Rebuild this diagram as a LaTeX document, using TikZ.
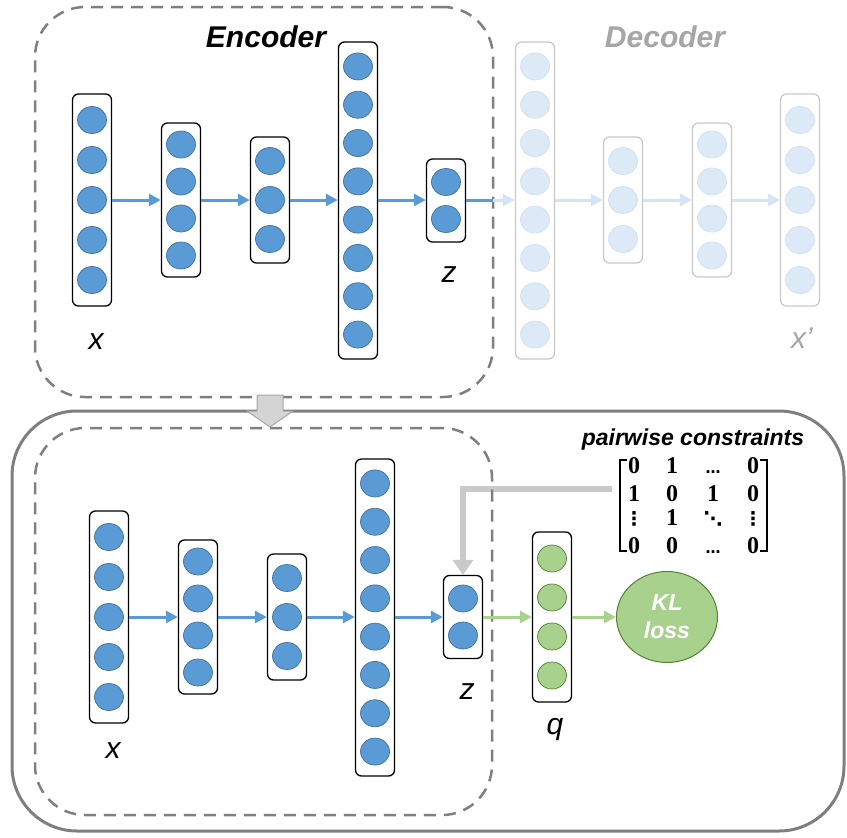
\documentclass[tikz,border=0pt]{standalone}
\usepackage{fontspec}
\setmainfont{Liberation Sans}
\newfontfamily\matfont{Liberation Serif}
\newfontfamily\dotfont{DejaVu Sans}
\usetikzlibrary{shapes.geometric,arrows.meta}
\definecolor{nblue}{HTML}{5B9BD5}
\definecolor{nblueb}{HTML}{41719C}
\definecolor{lblue}{HTML}{DCEAF7}
\definecolor{lblueb}{HTML}{CFE1F2}
\definecolor{larrow}{HTML}{D2E4F5}
\definecolor{lgraybox}{HTML}{C8C8C8}
\definecolor{dectext}{HTML}{A6A6A6}
\definecolor{frame}{HTML}{7F7F7F}
\definecolor{bafill}{HTML}{D4D4D4}
\definecolor{badraw}{HTML}{A6A6A6}
\definecolor{cgray}{HTML}{C9C9C9}
\definecolor{ngreen}{HTML}{A9D18E}
\definecolor{ngreenb}{HTML}{548235}
\definecolor{garr}{HTML}{A9D18E}
\newcommand\mklayer[8]{%
  \node[#8, minimum height=#6pt] (#1) at (#2,#3) {};
  \foreach \i in {1,...,#4}
    \node[#7] (#1-\i) at (#2,{#3+(\i-(#4+1)/2)*#5}) {};
}
\tikzset{
  lbox/.style={draw=black, line width=1.3pt, rounded corners=6pt, minimum width=39pt, inner sep=0pt},
  dbox/.style={lbox, draw=lgraybox},
  neuron/.style={ellipse, draw=nblueb, fill=nblue, line width=0.7pt, minimum width=29pt, minimum height=27pt, inner sep=0pt},
  dneuron/.style={neuron, draw=lblueb, fill=lblue},
  gneuron/.style={neuron, draw=ngreenb, fill=ngreen},
  barrow/.style={draw=nblue, line width=3pt, -{Triangle[length=12pt,width=12pt]}},
  lbarrow/.style={draw=larrow, line width=3pt, -{Triangle[length=12pt,width=12pt]}},
  garrow/.style={draw=garr, line width=3pt, -{Triangle[length=12pt,width=12pt]}},
  dashbox/.style={draw=frame, line width=2.5pt, dash pattern=on 12pt off 8pt, rounded corners=50pt, inner sep=0pt},
  lab/.style={font=\fontsize{30}{36}\selectfont\itshape, inner sep=0pt},
  title/.style={font=\fontsize{30}{36}\selectfont\bfseries\itshape, inner sep=0pt},
  ent/.style={font=\fontsize{24}{24}\selectfont\matfont\bfseries, anchor=base, inner sep=0pt},
  dts/.style={font=\fontsize{15}{15}\selectfont\dotfont\bfseries, anchor=base, inner sep=0pt},
  vdts/.style={font=\fontsize{19}{19}\selectfont\dotfont\bfseries, anchor=base, inner sep=0pt},
}
\begin{document}
\begin{tikzpicture}[x=1pt,y=-1pt]
\useasboundingbox (0,0) rectangle (847,838);
% ---------- top: encoder / decoder ----------
\node[dashbox, minimum width=458pt, minimum height=390pt] (enc) at (264,202) {};
\node[title] (enct) at (266,37) {Encoder};
\node[title, text=dectext] (dect) at (665,37) {Decoder};
\mklayer{A1}{92}{200}{5}{40}{212}{neuron}{lbox}
\mklayer{A2}{181}{200}{4}{37}{154}{neuron}{lbox}
\mklayer{A3}{270}{200}{3}{39}{126}{neuron}{lbox}
\mklayer{A4}{358}{200.5}{8}{38.3}{317}{neuron}{lbox}
\mklayer{A5}{446}{200.5}{2}{37}{83}{neuron}{lbox}
\mklayer{D1}{535}{200.5}{8}{38.3}{317}{dneuron}{dbox}
\mklayer{D2}{623}{200}{3}{39}{126}{dneuron}{dbox}
\mklayer{D3}{712}{200}{4}{37}{154}{dneuron}{dbox}
\mklayer{D4}{800}{200}{5}{40}{212}{dneuron}{dbox}
\draw[barrow] (A1.east|-0,200) -- (A2.west|-0,200);
\draw[barrow] (A2.east|-0,200) -- (A3.west|-0,200);
\draw[barrow] (A3.east|-0,200) -- (A4.west|-0,200);
\draw[barrow] (A4.east|-0,200) -- (A5.west|-0,200);
\coordinate (zcut) at (493,200);
\draw[draw=nblue, line width=3pt] (A5.east|-0,200) -- (zcut);
\draw[lbarrow] (zcut) -- (D1.west|-0,200);
\draw[lbarrow] (D1.east|-0,200) -- (D2.west|-0,200);
\draw[lbarrow] (D2.east|-0,200) -- (D3.west|-0,200);
\draw[lbarrow] (D3.east|-0,200) -- (D4.west|-0,200);
\node[lab] (xl) at (96,342) {x};
\node[lab] (zl) at (449,275) {z};
\node[lab, text=dectext] (xpl) at (802,338) {x’};
% ---------- bottom ----------
\node[draw=frame, line width=3pt, rounded corners=65pt, minimum width=832pt, minimum height=420pt, inner sep=0pt] (outer) at (428,621) {};
\coordinate (cstart) at (612,489);
\mklayer{B1}{109}{617}{5}{40}{212}{neuron}{lbox}
\mklayer{B2}{198}{617}{4}{37}{154}{neuron}{lbox}
\mklayer{B3}{287}{617}{3}{39}{126}{neuron}{lbox}
\mklayer{B4}{375}{617.5}{8}{38.3}{317}{neuron}{lbox}
\mklayer{B5}{463}{617}{2}{37}{83}{neuron}{lbox}
\mklayer{Q}{552}{617}{4}{39}{170}{gneuron}{lbox}
\draw[draw=cgray, line width=6pt, -{Triangle[length=15pt,width=20pt]}] (cstart) -| (B5.north);
\node[dashbox, minimum width=457pt, minimum height=387pt] (enc2) at (263.5,621.5) {};
\draw[barrow] (B1.east|-0,617) -- (B2.west|-0,617);
\draw[barrow] (B2.east|-0,617) -- (B3.west|-0,617);
\draw[barrow] (B3.east|-0,617) -- (B4.west|-0,617);
\draw[barrow] (B4.east|-0,617) -- (B5.west|-0,617);
\node[ellipse, draw=ngreenb, fill=ngreen, line width=1pt, minimum width=101pt, minimum height=91pt, inner sep=0pt,
      text=white, align=center, font=\fontsize{23}{28}\selectfont\bfseries\itshape] (kl) at (667,617) {KL\\loss};
\draw[garrow] (B5.east|-0,617) -- (Q.west|-0,617);
\draw[garrow] (Q.east|-0,617) -- (kl.west);
\node[lab] (xl2) at (113,751) {x};
\node[lab] (zl2) at (467,692) {z};
\node[lab] (ql) at (555,730) {q};
% block arrow between panels
\draw[fill=bafill, draw=badraw, line width=1pt] (257,395) -- (283,395) -- (283,411) -- (293,411) -- (270,427) -- (247,411) -- (257,411) -- cycle;
% pairwise constraints matrix
\node[font=\fontsize{23}{28}\selectfont\bfseries\itshape, inner sep=0pt] (pc) at (693,440) {pairwise constraints};
\draw[line width=1.8pt] (627,460) -| (620,551) -- (627,551);
\draw[line width=1.8pt] (760,460) -| (767,551) -- (760,551);
\node[ent] (m11) at (634,473) {0};
\node[ent] (m12) at (672,473) {1};
\node[dts] (m13) at (713,473) {…};
\node[ent] (m14) at (753,473) {0};
\node[ent] (m21) at (634,501) {1};
\node[ent] (m22) at (672,501) {0};
\node[ent] (m23) at (713,501) {1};
\node[ent] (m24) at (753,501) {0};
\node[vdts] (m31) at (634,525) {⋮};
\node[ent] (m32) at (672,525) {1};
\node[vdts] (m33) at (713,525) {⋱};
\node[vdts] (m34) at (753,525) {⋮};
\node[ent] (m41) at (634,553) {0};
\node[ent] (m42) at (672,553) {0};
\node[dts] (m43) at (713,553) {…};
\node[ent] (m44) at (753,553) {0};
\end{tikzpicture}
\end{document}
